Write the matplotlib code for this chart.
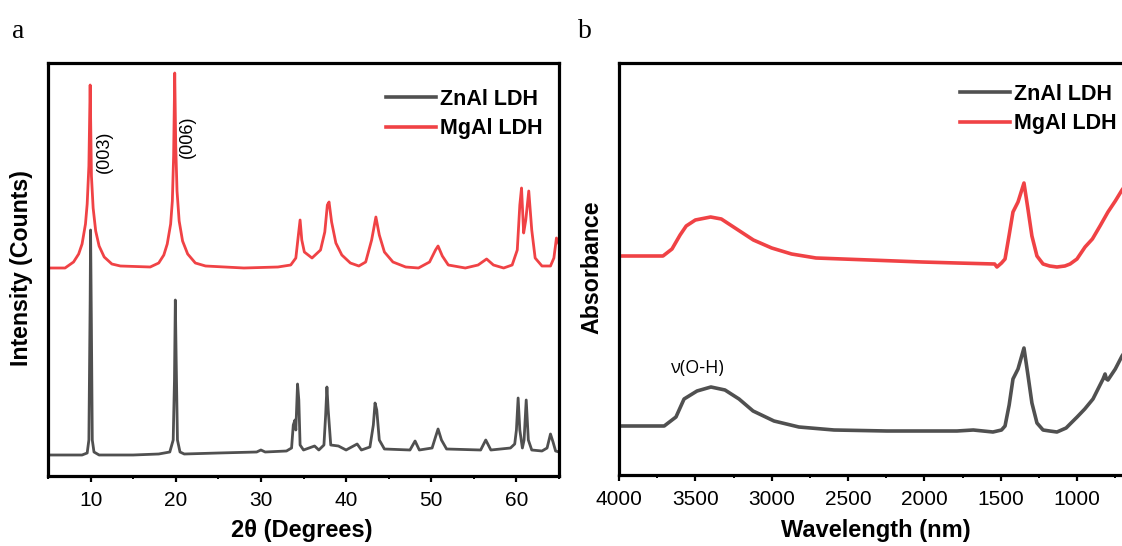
import matplotlib
matplotlib.use("Agg")
import matplotlib.pyplot as plt
from matplotlib.ticker import MultipleLocator

# ---------------- data: panel a (XRD) ----------------
xrd_mgal_2theta = [5.0, 7.0, 8.0, 8.6, 9.0, 9.4, 9.6, 9.8, 9.95, 10.1, 10.3, 10.6, 11.0, 11.6, 12.5, 13.5,
                   17.0, 18.0, 18.6, 19.0, 19.4, 19.6, 19.75, 19.88, 20.0, 20.15, 20.4, 20.8, 21.4, 22.3, 23.5,
                   28.0, 32.0, 33.5, 34.1, 34.4, 34.6, 34.8, 35.1, 36.0, 37.0, 37.5, 37.8, 38.0, 38.3, 38.8,
                   39.5, 40.5, 41.5, 42.3, 43.0, 43.5, 43.9, 44.5, 45.5, 47.0, 48.5, 49.8, 50.5, 50.8, 51.3,
                   52.0, 54.0, 55.5, 56.5, 57.3, 58.5, 59.5, 60.1, 60.4, 60.6, 60.85, 61.1, 61.45, 61.8, 62.2,
                   63.0, 64.0, 64.4, 64.7, 65.0]
xrd_mgal_int = [208, 208, 214, 222, 232, 252, 272, 310, 391, 300, 268, 245, 230, 219, 212, 210,
                209, 213, 221, 232, 252, 275, 320, 403, 330, 285, 255, 235, 222, 213, 210,
                208, 209, 211, 218, 241, 256, 236, 224, 218, 226, 244, 271, 274, 254, 233,
                221, 213, 210, 214, 236, 259, 241, 224, 214, 209, 208, 214, 226, 230, 220,
                211, 208, 211, 217, 211, 208, 211, 226, 271, 288, 243, 256, 285, 246, 218,
                210, 210, 218, 238, 232]

xrd_znal_2theta = [5.0, 9.0, 9.6, 9.8, 9.95, 10.0, 10.1, 10.2, 10.4, 11.0, 15.0, 18.0, 19.3, 19.7, 19.85,
                   19.95, 20.05, 20.2, 20.5, 21.0, 25.0, 29.5, 30.0, 30.5, 33.0, 33.6, 33.8, 34.0, 34.1,
                   34.3, 34.45, 34.6, 35.0, 36.3, 36.8, 37.4, 37.6, 37.75, 37.9, 38.2, 39.1, 40.0, 41.3,
                   41.8, 42.8, 43.2, 43.4, 43.6, 43.9, 44.5, 47.5, 48.1, 48.6, 50.1, 50.5, 50.8, 51.2,
                   51.8, 55.8, 56.4, 57.0, 59.3, 59.8, 60.0, 60.2, 60.4, 60.7, 60.9, 61.15, 61.4, 61.8,
                   63.0, 63.6, 64.0, 64.3, 64.6, 65.0]
xrd_znal_int = [21, 21, 23, 36, 176, 246, 146, 36, 24, 21, 21, 22, 24, 36, 96,
                176, 116, 36, 24, 22, 23, 24, 26, 24, 25, 28, 51, 56, 46,
                92, 76, 31, 26, 30, 26, 31, 61, 89, 66, 31, 30, 26, 32,
                26, 29, 51, 73, 66, 36, 27, 26, 35, 26, 28, 39, 47, 36,
                27, 26, 36, 26, 28, 32, 46, 78, 46, 28, 36, 76, 36, 26,
                25, 28, 42, 34, 25, 24]

xrd_ticks = [10, 20, 30, 40, 50, 60]

# ---------------- data: panel b (absorbance) ----------------
ab_mgal_wn = [4000, 3850, 3712, 3653, 3600, 3560, 3500, 3400, 3330, 3240, 3120, 3000, 2870, 2710, 2360,
              2016, 1787, 1540, 1525, 1495, 1472, 1445, 1420, 1387, 1348, 1322, 1296, 1263, 1223, 1180,
              1132, 1080, 1046, 1001, 948, 900, 850, 798, 750, 706, 634]
ab_mgal_val = [219, 219, 219, 226, 240, 249, 255, 258, 256, 247, 235, 227, 221, 217, 215,
               213, 212, 211, 208, 212, 216, 240, 263, 273, 292, 266, 239, 219, 211, 209,
               208, 209, 211, 216, 228, 236, 249, 263, 274, 285, 300]

ab_znal_wn = [4000, 3850, 3704, 3627, 3574, 3489, 3398, 3306, 3214, 3122, 2985, 2822, 2592, 2245, 1787,
              1680, 1551, 1495, 1472, 1445, 1420, 1387, 1348, 1322, 1296, 1263, 1223, 1180, 1132, 1072,
              1046, 1000, 950, 896, 850, 830, 817, 808, 798, 750, 706, 634]
ab_znal_val = [49, 49, 49, 58, 76, 84, 88, 85, 76, 64, 54, 48, 45, 44, 44,
               45, 43, 45, 49, 70, 96, 106, 127, 100, 72, 52, 45, 44, 43, 47,
               51, 58, 66, 76, 90, 96, 101, 96, 95, 106, 119, 135]

ab_ticks = [4000, 3500, 3000, 2500, 2000, 1500, 1000]

labels = ["ZnAl LDH", "MgAl LDH"]
c_zn = "#505050"
c_mg = "#F04245"

# ---------------- figure ----------------
W, H = 1122, 546
fig = plt.figure(figsize=(W / 100, H / 100), dpi=100)
plt.rcParams['font.family'] = ['Liberation Sans', 'DejaVu Sans']

def px_axes(l, r, t, b):
    return [l / W, 1 - b / H, (r - l) / W, (b - t) / H]

ax_a = fig.add_axes(px_axes(48, 559, 63, 476))
ax_b = fig.add_axes(px_axes(619, 1133, 63, 475))

lw_data = 2.0
ax_a.plot(xrd_znal_2theta, xrd_znal_int, color=c_zn, lw=lw_data, label=labels[0])
ax_a.plot(xrd_mgal_2theta, xrd_mgal_int, color=c_mg, lw=lw_data, label=labels[1])
ax_a.set_xlim(5, 65)
ax_a.set_ylim(0, 413)

ax_b.plot(ab_znal_wn, ab_znal_val, color=c_zn, lw=lw_data + 0.6, label=labels[0])
ax_b.plot(ab_mgal_wn, ab_mgal_val, color=c_mg, lw=lw_data + 0.6, label=labels[1])
ax_b.set_xlim(4000, 634)
ax_b.set_ylim(0, 412)

for ax in (ax_a, ax_b):
    for s in ax.spines.values():
        s.set_linewidth(2.3)
    ax.set_yticks([])
    ax.tick_params(axis='x', which='major', direction='out', length=4.5, width=1.6,
                   labelsize=15, pad=6)
    ax.tick_params(axis='x', which='minor', direction='out', length=2.5, width=1.4)

ax_a.set_xticks(xrd_ticks)
ax_a.xaxis.set_minor_locator(MultipleLocator(5))
ax_b.set_xticks(ab_ticks)
ax_b.xaxis.set_minor_locator(MultipleLocator(250))
ax_b.spines['right'].set_visible(False)

# axis labels
fig.text(302 / W, 1 - 530 / H, "2θ (Degrees)", ha='center', va='center',
         fontsize=17, fontweight='bold')
fig.text(876 / W, 1 - 530 / H, "Wavelength (nm)", ha='center', va='center',
         fontsize=17, fontweight='bold')
fig.text(22 / W, 1 - 268 / H, "Intensity (Counts)", ha='center', va='center',
         rotation=90, fontsize=16.7, fontweight='bold')
fig.text(592 / W, 1 - 267 / H, "Absorbance", ha='center', va='center',
         rotation=90, fontsize=16.7, fontweight='bold')

# panel letters
fig.text(12 / W, 1 - 38 / H, "a", fontsize=20, family='Liberation Serif', va='baseline')
fig.text(578 / W, 1 - 38 / H, "b", fontsize=20, family='Liberation Serif', va='baseline')

# annotations
ax_a.text(11.6, 476 - 152, "(003)", rotation=90, ha='center', va='center', fontsize=13)
ax_a.text(21.4, 476 - 137, "(006)", rotation=90, ha='center', va='center', fontsize=13)
ax_b.text(3483, 476 - 369, "ν(O-H)", ha='center', va='center', fontsize=13,
          family=['Open Sans', 'DejaVu Sans'])

# legends
leg_kw = dict(frameon=False, loc='upper left', borderpad=0, borderaxespad=0,
              handlelength=2.3, handletextpad=0.2, labelspacing=0.38,
              prop={'weight': 'bold', 'size': 15.5})
la = ax_a.legend(bbox_to_anchor=(386 / W, 1 - 89 / H), bbox_transform=fig.transFigure, **leg_kw)
lb = ax_b.legend(bbox_to_anchor=(960 / W, 1 - 84 / H), bbox_transform=fig.transFigure, **leg_kw)
for lg in (la, lb):
    for ln in lg.get_lines():
        ln.set_linewidth(2.6)

fig.savefig("out.png", dpi=100)
